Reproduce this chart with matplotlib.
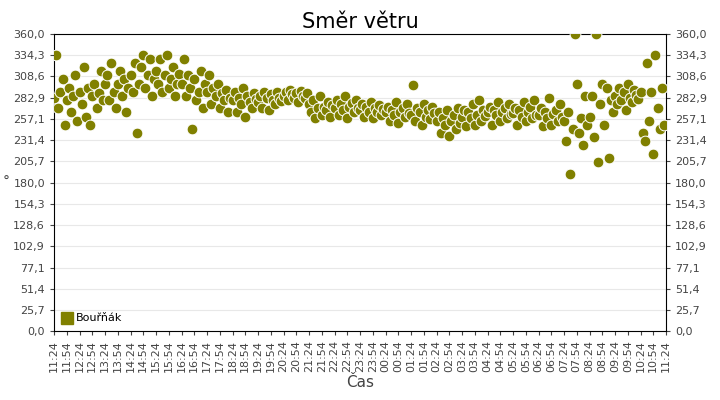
import matplotlib
matplotlib.use("Agg")
import matplotlib.pyplot as plt
from matplotlib.lines import Line2D
import numpy as np
from datetime import datetime, timedelta
import matplotlib.dates as mdates

start = datetime(2024, 1, 1, 11, 24)
# wind direction, one reading every 5 minutes, grouped by hour
h01 = [283, 334, 270, 290, 305, 250, 280, 295, 265, 285, 310, 255]
h02 = [290, 275, 320, 260, 295, 250, 285, 300, 270, 288, 315, 280]
h03 = [300, 310, 280, 325, 290, 270, 300, 315, 285, 305, 265, 295]
h04 = [310, 290, 325, 240, 300, 320, 335, 295, 310, 330, 285, 305]
h05 = [315, 300, 330, 290, 310, 335, 295, 305, 320, 285, 300, 312]
h06 = [300, 330, 285, 310, 295, 245, 305, 280, 290, 315, 270, 300]
h07 = [290, 310, 275, 295, 285, 300, 270, 288, 280, 292, 265, 283]
h08 = [280, 290, 265, 283, 275, 295, 260, 285, 278, 270, 288, 281]
h09 = [278, 285, 270, 290, 282, 268, 287, 280, 275, 290, 283, 279]
h10 = [285, 290, 280, 292, 287, 283, 289, 278, 291, 285, 282, 288]
h11 = [275, 265, 280, 258, 270, 285, 262, 272, 268, 278, 260, 274]
h12 = [270, 280, 262, 275, 268, 285, 258, 272, 277, 265, 280, 270]
h13 = [268, 275, 260, 272, 265, 278, 258, 270, 266, 274, 262, 269]
h14 = [265, 272, 255, 268, 262, 278, 252, 266, 270, 260, 275, 264]
h15 = [262, 298, 255, 270, 266, 250, 275, 260, 268, 257, 272, 264]
h16 = [255, 265, 240, 258, 250, 268, 236, 255, 262, 245, 270, 252]
h17 = [260, 268, 248, 265, 258, 275, 250, 262, 280, 255, 268, 261]
h18 = [265, 272, 250, 268, 262, 278, 255, 266, 270, 258, 275, 263]
h19 = [264, 270, 250, 268, 260, 278, 255, 266, 272, 258, 280, 262]
h20 = [262, 270, 248, 265, 258, 282, 250, 263, 268, 255, 275, 260]
h21 = [255, 230, 265, 190, 245, 360, 300, 240, 258, 225, 285, 250]
h22 = [260, 285, 235, 360, 205, 275, 300, 250, 295, 210, 280, 265]
h23 = [285, 275, 295, 280, 290, 268, 300, 283, 278, 292, 286, 281]
h24 = [290, 240, 230, 325, 255, 290, 215, 335, 270, 245, 295, 250]
directions = (h01 + h02 + h03 + h04 + h05 + h06 + h07 + h08 + h09 + h10 + h11 + h12
              + h13 + h14 + h15 + h16 + h17 + h18 + h19 + h20 + h21 + h22 + h23 + h24)
times = [start + timedelta(minutes=5 * i) for i in range(len(directions))]

olive = "#808000"
fig = plt.figure(figsize=(7.2, 4.0), dpi=100)
ax = fig.add_axes([0.075, 0.172, 0.85, 0.743])
ax.scatter(times, directions, s=60, color=olive, edgecolors="white", linewidths=0.7,
           zorder=3)

yt = np.linspace(0, 360, 15)
ax.set_ylim(0, 360)
ax.set_yticks(yt)
ax.set_yticklabels([f"{v:.1f}".replace(".", ",") for v in yt])
ax.tick_params(axis="y", labelsize=8, colors="#444444", right=True, labelright=True, length=3)
ax.grid(axis="y", color="#e8e8e8", lw=0.8, zorder=0)
ax.set_xlim(start, start + timedelta(hours=24))
ax.xaxis.set_major_locator(mdates.MinuteLocator(byminute=[24, 54]))
ax.xaxis.set_major_formatter(mdates.DateFormatter("%H:%M"))
ax.tick_params(axis="x", labelsize=8, rotation=90, colors="#444444", length=3)
ax.set_title("Směr větru", fontsize=15, pad=4)
ax.set_xlabel("Čas", fontsize=11, color="#444444", labelpad=2)
fig.text(0.004, 0.545, "°", fontsize=10, color="#444444", va="center")
handle = Line2D([], [], marker="s", ls="none", color=olive, markersize=9)
ax.legend([handle], ["Bouřňák"], loc="lower left", frameon=False, fontsize=8,
          handletextpad=0.3, borderpad=0.2, handlelength=1.0)
fig.savefig("out.png", dpi=100)
